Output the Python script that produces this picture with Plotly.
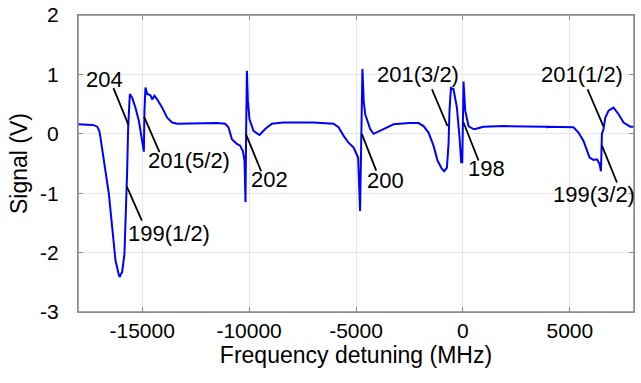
import plotly.graph_objects as go

# ---- data ----
freq_mhz = [
    -18000, -17600, -17300, -17100, -17000, -16950, -16790, -16557, -16402, -16248,
    -16089, -16042, -15990, -15935, -15827, -15748, -15701, -15654, -15621, -15575,
    -15467, -15313, -15154, -14999, -14920, -14892, -14845, -14765, -14611, -14531,
    -14424, -14298, -14064, -13830, -13596, -13362, -12500, -11500, -11117, -10963,
    -10804, -10570, -10416, -10290, -10214, -10168, -10135, -10102, -10056, -9981,
    -9794, -9513, -9247, -8933, -8390, -7000, -6052, -5818, -5584, -5350,
    -5117, -4958, -4900, -4810, -4740, -4700, -4640, -4569, -4336, -4181,
    -3713, -3246, -2500, -2076, -1843, -1609, -1375, -1188, -982, -875,
    -748, -673, -627, -561, -440, -281, -159, -80, -30, 28,
    108, 262, 341, 496, 575, 963, 1899, 3000, 3900, 3928,
    3960, 5172, 5406, 5640, 5800, 5921, 6108, 6267, 6389, 6454,
    6501, 6576, 6655, 6810, 7044, 7278, 7512, 7825, 8000,
]
signal_v = [
    0.16, 0.16, 0.15, 0.12, 0.04, -0.06, -0.45, -1.01, -1.57, -2.13,
    -2.38, -2.41, -2.36, -2.33, -2.02, -1.29, -0.62, 0.11, 0.39, 0.67,
    0.61, 0.44, 0.22, -0.12, -0.30, 0.39, 0.78, 0.67, 0.65, 0.58,
    0.64, 0.58, 0.44, 0.27, 0.19, 0.17, 0.18, 0.18, 0.17, 0.11,
    -0.09, -0.17, -0.20, -0.29, -0.45, -1.15, 0.11, 1.06, 0.55, 0.25,
    0.05, -0.02, 0.08, 0.17, 0.19, 0.19, 0.17, 0.11, -0.03, -0.15,
    -0.23, -0.34, -0.40, -1.30, 0.00, 1.09, 0.55, 0.33, 0.08, 0.00,
    0.08, 0.16, 0.18, 0.18, 0.13, 0.02, -0.20, -0.45, -0.59, -0.63,
    -0.57, -0.17, 0.39, 0.77, 0.75, 0.44, -0.06, -0.48, -0.48, 0.88,
    0.39, 0.13, 0.11, 0.08, 0.08, 0.12, 0.13, 0.12, 0.12, 0.10,
    0.12, 0.11, 0.02, -0.12, -0.29, -0.40, -0.44, -0.43, -0.51, -0.63,
    0.00, 0.08, 0.27, 0.39, 0.44, 0.33, 0.19, 0.12, 0.12,
]

# peak labels: text, pointed feature (x, y), leader end near text (x, y), text centre (x, y)
label_text = ["204", "201(5/2)", "199(1/2)", "202", "200",
              "201(3/2)", "198", "201(1/2)", "199(3/2)"]
label_px = [-15640, -14906, -15715, -10149, -4724, -720, 28, 6576, 6501]
label_py = [0.15, 0.285, -0.89, -0.005, -0.005, 0.13, 0.19, 0.12, -0.20]
leader_x = [-16342, -14190, -15013, -9434, -4055, -1450, 730, 5828, 7203]
leader_y = [0.77, -0.31, -1.46, -0.63, -0.62, 0.75, -0.45, 0.75, -0.82]
text_x = [-16740, -12815, -13736, -9059, -3601, -2091, 1090, 5566, 6150]
text_y = [0.906, -0.453, -1.683, -0.767, -0.789, 0.993, -0.592, 0.99, -1.027]

x_ticks = [-15000, -10000, -5000, 0, 5000]
y_ticks = [-3, -2, -1, 0, 1, 2]

FONT = "Liberation Sans, Arial, sans-serif"
AXIS_GRAY = "#8c8c8c"

fig = go.Figure()
fig.add_trace(go.Scatter(x=freq_mhz, y=signal_v, mode="lines",
                         line=dict(color="#0000ff", width=2), showlegend=False))

lx, ly = [], []
for a, b, c, d in zip(label_px, label_py, leader_x, leader_y):
    lx += [a, c, None]
    ly += [b, d, None]
fig.add_trace(go.Scatter(x=lx, y=ly, mode="lines",
                         line=dict(color="black", width=1.8), showlegend=False))

for t, x, y in zip(label_text, text_x, text_y):
    fig.add_annotation(x=x, y=y, text=t, showarrow=False, xanchor="center",
                       yanchor="middle", font=dict(family=FONT, size=22, color="black"))

# axes box
fig.add_shape(type="rect", xref="paper", yref="paper", x0=0, x1=1, y0=0, y1=1,
              line=dict(color=AXIS_GRAY, width=1.5), fillcolor="rgba(0,0,0,0)", layer="above")

axis_common = dict(showline=True, linecolor=AXIS_GRAY, linewidth=1, mirror="ticks",
                   ticks="inside", ticklen=5, tickcolor=AXIS_GRAY, showgrid=True,
                   gridcolor="#e6e6e6", gridwidth=1, zeroline=False, automargin=False,
                   ticklabeloverflow="allow",
                   tickfont=dict(family=FONT, size=21, color="black"))

fig.update_xaxes(range=[-18000, 8000], tickvals=x_ticks,
                 ticktext=[str(v) for v in x_ticks], ticklabelstandoff=0,
                 title=dict(text="Frequency detuning (MHz)", standoff=0,
                            font=dict(family=FONT, size=23, color="black")),
                 **axis_common)
fig.update_yaxes(range=[-3, 2], tickvals=y_ticks,
                 ticktext=[str(v) for v in y_ticks], ticklabelstandoff=14,
                 title=dict(text="Signal (V)", standoff=6,
                            font=dict(family=FONT, size=23, color="black")),
                 **axis_common)

fig.update_layout(width=641, height=383, margin=dict(l=78, r=7, t=15, b=71),
                  paper_bgcolor="white", plot_bgcolor="white")

# remove the default page margin so the figure sits at the window's corner
fig.write_html("out.html",
               config={"displayModeBar": False, "staticPlot": True},
               post_script="document.body.style.margin='0';"
                           "document.body.style.overflow='hidden';")
